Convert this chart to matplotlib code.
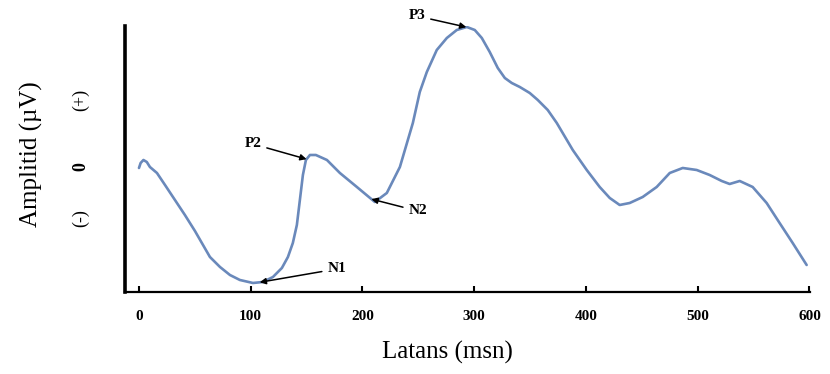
import numpy as np
import matplotlib
matplotlib.use("Agg")
import matplotlib.pyplot as plt

# latency (ms) and amplitude (arbitrary uV units)
latency = [0, 1.5, 4, 7, 9.8, 16.1, 23.3, 32.2, 41.1, 50.1, 63.5, 72.5,
           81.4, 90.3, 102.0, 110.9, 119.9, 127.9, 133.3, 137.7, 141.3,
           144.0, 146.7, 149.4, 153.0, 158.3, 168.2, 179.8, 195.0, 211.1,
           221.8, 233.5, 245.1, 251.3, 257.6, 266.5, 275.5, 284.4, 293.4,
           300.5, 306.8, 313.9, 321.1, 327.4, 333.6, 340.8, 349.7, 356.9,
           365.8, 373.9, 388.2, 400.7, 412.3, 421.3, 430.2, 439.2, 450.8,
           463.3, 475.0, 486.6, 499.1, 510.7, 521.5, 528.6, 537.6, 549.2,
           561.7, 573.3, 585.0, 597.5]
amplitude = [-0.04, 0.16, 0.28, 0.20, 0.00, -0.24, -0.72, -1.32, -1.92,
             -2.56, -3.60, -4.00, -4.32, -4.52, -4.64, -4.60, -4.40, -4.04,
             -3.60, -3.04, -2.32, -1.32, -0.32, 0.28, 0.48, 0.48, 0.28,
             -0.24, -0.80, -1.40, -1.04, 0.00, 1.76, 3.00, 3.80, 4.68, 5.16,
             5.48, 5.60, 5.48, 5.16, 4.60, 3.96, 3.56, 3.36, 3.20, 2.96,
             2.68, 2.28, 1.76, 0.68, -0.12, -0.80, -1.24, -1.52, -1.44,
             -1.20, -0.80, -0.24, -0.04, -0.12, -0.32, -0.56, -0.68, -0.56,
             -0.80, -1.44, -2.24, -3.04, -3.92]

components = ["N1", "P2", "N2", "P3"]
comp_latency = [108, 150, 208, 293]

xticks = [0, 100, 200, 300, 400, 500, 600]
ytick_pos = [2.68, 0, -2.04]
ytick_labels = ["(+)", "0", "(-)"]

serif = "Liberation Serif"

fig = plt.figure(figsize=(8.3, 3.74), dpi=100)
ax = fig.add_axes([0.1506, 0.2193, 0.8253, 0.7112])

ax.plot(latency, amplitude, color="#6a89bb", lw=1.9,
        solid_joinstyle="round", solid_capstyle="round")

ax.set_xlim(-12.5, 600.5)
ax.set_ylim(-5.0, 5.64)

for s in ["top", "right"]:
    ax.spines[s].set_visible(False)
ax.spines["left"].set_linewidth(2.6)
ax.spines["bottom"].set_linewidth(1.6)

ax.set_xticks(xticks)
ax.set_xticklabels([str(t) for t in xticks], fontfamily=serif,
                   fontweight="bold", fontsize=11)
ax.tick_params(axis="x", direction="in", length=4, width=1.5, pad=13)

ax.set_yticks(ytick_pos)
ax.set_yticklabels(ytick_labels, fontfamily=serif, fontsize=13,
                   rotation=90, va="center")
ax.get_yticklabels()[1].set_fontweight("bold")
ax.tick_params(axis="y", length=0, pad=26)

ax.set_xlabel("Latans (msn)", fontfamily=serif, fontsize=18, va="center")
ax.xaxis.set_label_coords(0.47, -0.2256)
ax.set_ylabel("Amplitid (µV)", fontfamily=serif, fontsize=18, va="center")
ax.yaxis.set_label_coords(-0.137, 0.519)

text_pos = {"N1": (177, -4.08), "P2": (102, 0.92),
            "N2": (249.5, -1.76), "P3": (248.7, 6.04)}
for name, lat in zip(components, comp_latency):
    amp = np.interp(lat, latency, amplitude)
    ax.annotate(name, xy=(lat, amp), xytext=text_pos[name],
                ha="center", va="center", fontfamily=serif,
                fontweight="bold", fontsize=11, annotation_clip=False,
                arrowprops=dict(arrowstyle="-|>", color="black", lw=1.1,
                                mutation_scale=9, shrinkA=2, shrinkB=0))

fig.savefig("out.png", dpi=100)
